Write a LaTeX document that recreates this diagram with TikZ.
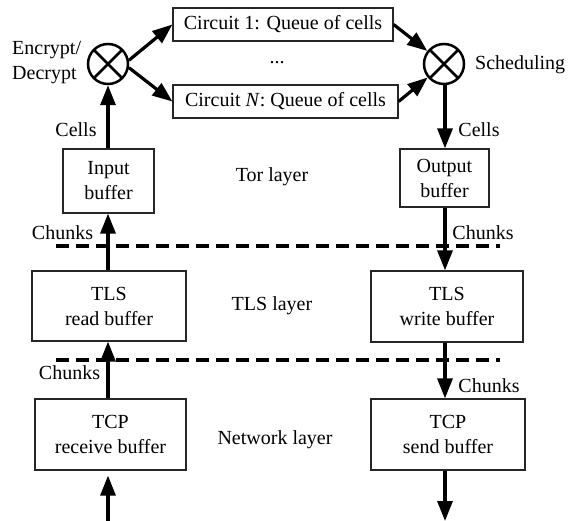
\documentclass[tikz,border=0pt]{standalone}
\usepackage{fontspec}
\setmainfont{Liberation Serif}
\usetikzlibrary{arrows.meta}
\begin{document}
\begin{tikzpicture}[x=1pt,y=-1pt,
  font=\fontsize{20}{25}\selectfont,
  box/.style={draw=black!85, line width=1.2pt, inner sep=0pt, align=center},
  xor/.style={circle, draw, line width=2.5pt, minimum size=40pt, inner sep=0pt,
    path picture={\draw[line width=2.5pt]
      (path picture bounding box.north west) -- (path picture bounding box.south east)
      (path picture bounding box.north east) -- (path picture bounding box.south west);}},
  flow/.style={line width=3.2pt, -{Triangle[length=20pt,width=15pt]}},
  sep/.style={line width=3.5pt, dash pattern=on 13pt off 7pt},
  lbl/.style={inner sep=0pt, anchor=base}]
\useasboundingbox (0,0) rectangle (568,521);

% top part
\node[box, minimum width=220pt, minimum height=33pt] (c1) at (283,24.5) {Circuit 1: Queue of cells};
\node[box, minimum width=225pt, minimum height=33pt] (cN) at (285.5,101.5) {Circuit \textit{N}: Queue of cells};
\node[inner sep=0pt] (dots) at (277,63) {...};
\node[xor] (enc) at (108,64) {};
\node[xor] (sch) at (444,64) {};
\node[inner sep=0pt, align=left, anchor=west] (enclbl) at (12,63) {Encrypt/\\Decrypt};
\node[lbl, anchor=base west] (schlbl) at (475,70) {Scheduling};

% Tor layer
\node[box, minimum width=91pt, minimum height=64pt] (inb) at (108.5,181) {Input\\buffer};
\node[box, minimum width=89pt, minimum height=58pt] (outb) at (444.5,178) {Output\\buffer};
\node[lbl] (tor) at (272,182) {Tor layer};
\node[lbl] (cellsL) at (76,137) {Cells};
\node[lbl] (cellsR) at (479,137) {Cells};

% TLS layer
\node[box, minimum width=154pt, minimum height=70pt] (tlsr) at (109,306) {TLS\\read buffer};
\node[box, minimum width=152pt, minimum height=71pt] (tlsw) at (447,306.5) {TLS\\write buffer};
\node[lbl] (tls) at (272,311) {TLS layer};
\node[lbl] (chTL) at (62.5,240) {Chunks};
\node[lbl] (chTR) at (483,240) {Chunks};

% Network layer
\node[box, minimum width=151pt, minimum height=71pt] (tcpr) at (110.5,434.5) {TCP\\receive buffer};
\node[box, minimum width=154pt, minimum height=71pt] (tcps) at (448,434.5) {TCP\\send buffer};
\node[lbl] (net) at (275,445) {Network layer};
\node[lbl] (chBL) at (69.5,380) {Chunks};
\node[lbl] (chBR) at (489,392) {Chunks};

% separators
\coordinate (s1a) at (56,246); \coordinate (s1b) at (500,246);
\coordinate (s2a) at (56,360); \coordinate (s2b) at (500,360);
\draw[sep] (s1a) -- (s1b);
\draw[sep] (s2a) -- (s2b);

% connectors
\coordinate (colL) at (108,0);
\coordinate (colR) at (445,0);
\draw[flow] (enc.10) -- (c1.west);
\draw[flow] (enc.-10) -- (cN.west);
\draw[flow] (c1.east) -- (sch);
\draw[flow] (cN.east) -- (sch);
\draw[flow] (inb.north -| colL) -- (enc.south -| colL);
\draw[flow] (sch.south -| colR) -- (outb.north -| colR);
\draw[flow] (tlsr.north -| colL) -- (inb.south -| colL);
\draw[flow] (outb.south -| colR) -- (tlsw.north -| colR);
\draw[flow] (tcpr.north -| colL) -- (tlsr.south -| colL);
\draw[flow] (tlsw.south -| colR) -- (tcps.north -| colR);
\coordinate (inL) at (108,521);
\coordinate (outR) at (445,521);
\draw[flow, shorten >=5pt] (inL) -- (tcpr.south -| inL);
\draw[flow] (tcps.south -| outR) -- (outR);
\end{tikzpicture}
\end{document}
